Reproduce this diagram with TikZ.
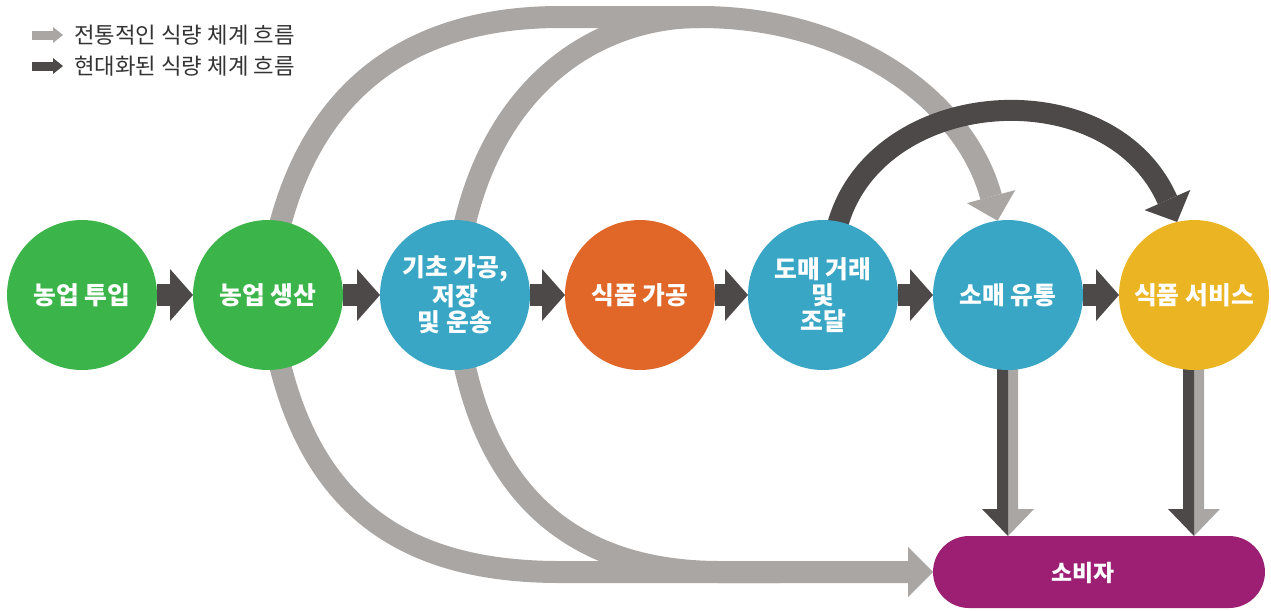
\documentclass[tikz,border=0pt]{standalone}
\usepackage{fontspec}
\setmainfont{Noto Sans CJK KR}
\usetikzlibrary{arrows.meta,calc}
\definecolor{cgreen}{RGB}{59,180,74}
\definecolor{cblue}{RGB}{56,166,196}
\definecolor{corange}{RGB}{224,103,40}
\definecolor{cyellow}{RGB}{235,180,35}
\definecolor{cpurple}{RGB}{156,31,115}
\definecolor{cgray}{RGB}{169,166,163}
\definecolor{cdark}{RGB}{77,73,73}
\definecolor{ctext}{RGB}{51,51,51}
\pgfdeclarelayer{bg}
\pgfsetlayers{bg,main}
\begin{document}
\begin{tikzpicture}[x=0.02cm,y=-0.02cm,
  stagenode/.style={circle,minimum size=3cm,inner sep=0pt,outer sep=0pt,text=white,align=center,font=\fontsize{14.1pt}{15pt}\selectfont\bfseries},
  tradband/.style={line width=0.44cm,draw=cgray},
  modband/.style={line width=0.42cm,draw=cdark},
  bigtip/.style={-{Triangle[length=0.5cm,width=1cm,line width=0pt]}},
  steparrow/.style={draw=cdark,line width=0.44cm,-{Triangle[length=0.46cm,width=1.04cm,line width=0pt]}},
  legendtext/.style={anchor=west,inner sep=0pt,text=ctext,font=\fontsize{12.7pt}{14pt}\selectfont}
]
\useasboundingbox (0,0) rectangle (1271,610);

% stages
\node[stagenode,fill=cgreen]  (c1) at (82,295)   {농업 투입};
\node[stagenode,fill=cgreen]  (c2) at (268,295)  {농업 생산};
\node[stagenode,fill=cblue]   (c3) at (455,295)  {기초 가공,\\저장\\및 운송};
\node[stagenode,fill=corange] (c4) at (640,295)  {식품 가공};
\node[stagenode,fill=cblue]   (c5) at (823,295)  {도매 거래\\및\\조달};
\node[stagenode,fill=cblue]   (c6) at (1008,295) {소매 유통};
\node[stagenode,fill=cyellow] (c7) at (1194,295) {식품 서비스};

% consumer
\node[fill=cpurple,rounded corners=0.72cm,minimum width=6.64cm,minimum height=1.44cm,inner sep=0pt,outer sep=0pt] (cons) at (1099,572) {};
\node[text=white,inner sep=0pt,font=\fontsize{13pt}{14pt}\selectfont\bfseries] (consl) at (1083,573) {소비자};

% legend
\node[legendtext] (l1) at (74,35) {전통적인 식량 체계 흐름};
\node[legendtext] (l2) at (74,66) {현대화된 식량 체계 흐름};
\draw[draw=cgray,line width=0.18cm,-{Triangle[length=0.2cm,width=0.32cm,line width=0pt]}] ([xshift=-0.84cm]l1.west) -- ([xshift=-0.22cm]l1.west);
\draw[draw=cdark,line width=0.18cm,-{Triangle[length=0.2cm,width=0.32cm,line width=0pt]}] ([xshift=-0.84cm]l2.west) -- ([xshift=-0.22cm]l2.west);

\begin{pgfonlayer}{bg}
% traditional flows, top
\draw[tradband] ($(c3.82)+(-3,12)$) -- (c3.82) .. controls (500,80) and (600,17) .. (700,17);
\draw[tradband,bigtip] ($(c2.80)+(-3,12)$) -- (c2.80) .. controls (320,80) and (420,17) .. (560,17) -- (700,17) .. controls (850,17) and (965,100) .. (c6.98);
% traditional flows, bottom
\draw[tradband] ($(c3.-82)+(-3,-12)$) -- (c3.-82) .. controls (500,520) and (600,572) .. (720,572) -- (780,572);
\draw[tradband,bigtip] ($(c2.-80)+(-3,-12)$) -- (c2.-80) .. controls (320,520) and (420,572) .. (560,572) -- (cons.west);
% modern flow
\draw[modband,-{Triangle[length=0.48cm,width=1cm,line width=0pt]}] ($(c5.78)+(-4,12)$) -- (c5.78) .. controls (880,85) and (1110,70) .. (c7.103);
% steps
\draw[steparrow] (c1.east) -- (c2.west);
\draw[steparrow] (c2.east) -- (c3.west);
\draw[steparrow] (c3.east) -- (c4.west);
\draw[steparrow] (c4.east) -- (c5.west);
\draw[steparrow] (c5.east) -- (c6.west);
\draw[steparrow] (c6.east) -- (c7.west);
% down arrows to consumer
\coordinate (t6) at (c6.south |- cons.north);
\coordinate (t7) at (c7.south |- cons.north);
\fill[cgray] ($(c6.south)+(0,-3)$) -- ++(10,0) -- ($(t6)+(10,-27)$) -- ($(t6)+(26,-27)$) -- (t6) -- cycle;
\fill[cdark] ($(c6.south)+(0,-3)$) -- ++(-11,0) -- ($(t6)+(-11,-27)$) -- ($(t6)+(-26,-27)$) -- (t6) -- cycle;
\fill[cgray] ($(c7.south)+(0,-3)$) -- ++(10,0) -- ($(t7)+(10,-27)$) -- ($(t7)+(26,-27)$) -- (t7) -- cycle;
\fill[cdark] ($(c7.south)+(0,-3)$) -- ++(-11,0) -- ($(t7)+(-11,-27)$) -- ($(t7)+(-26,-27)$) -- (t7) -- cycle;
\end{pgfonlayer}
\end{tikzpicture}
\end{document}
